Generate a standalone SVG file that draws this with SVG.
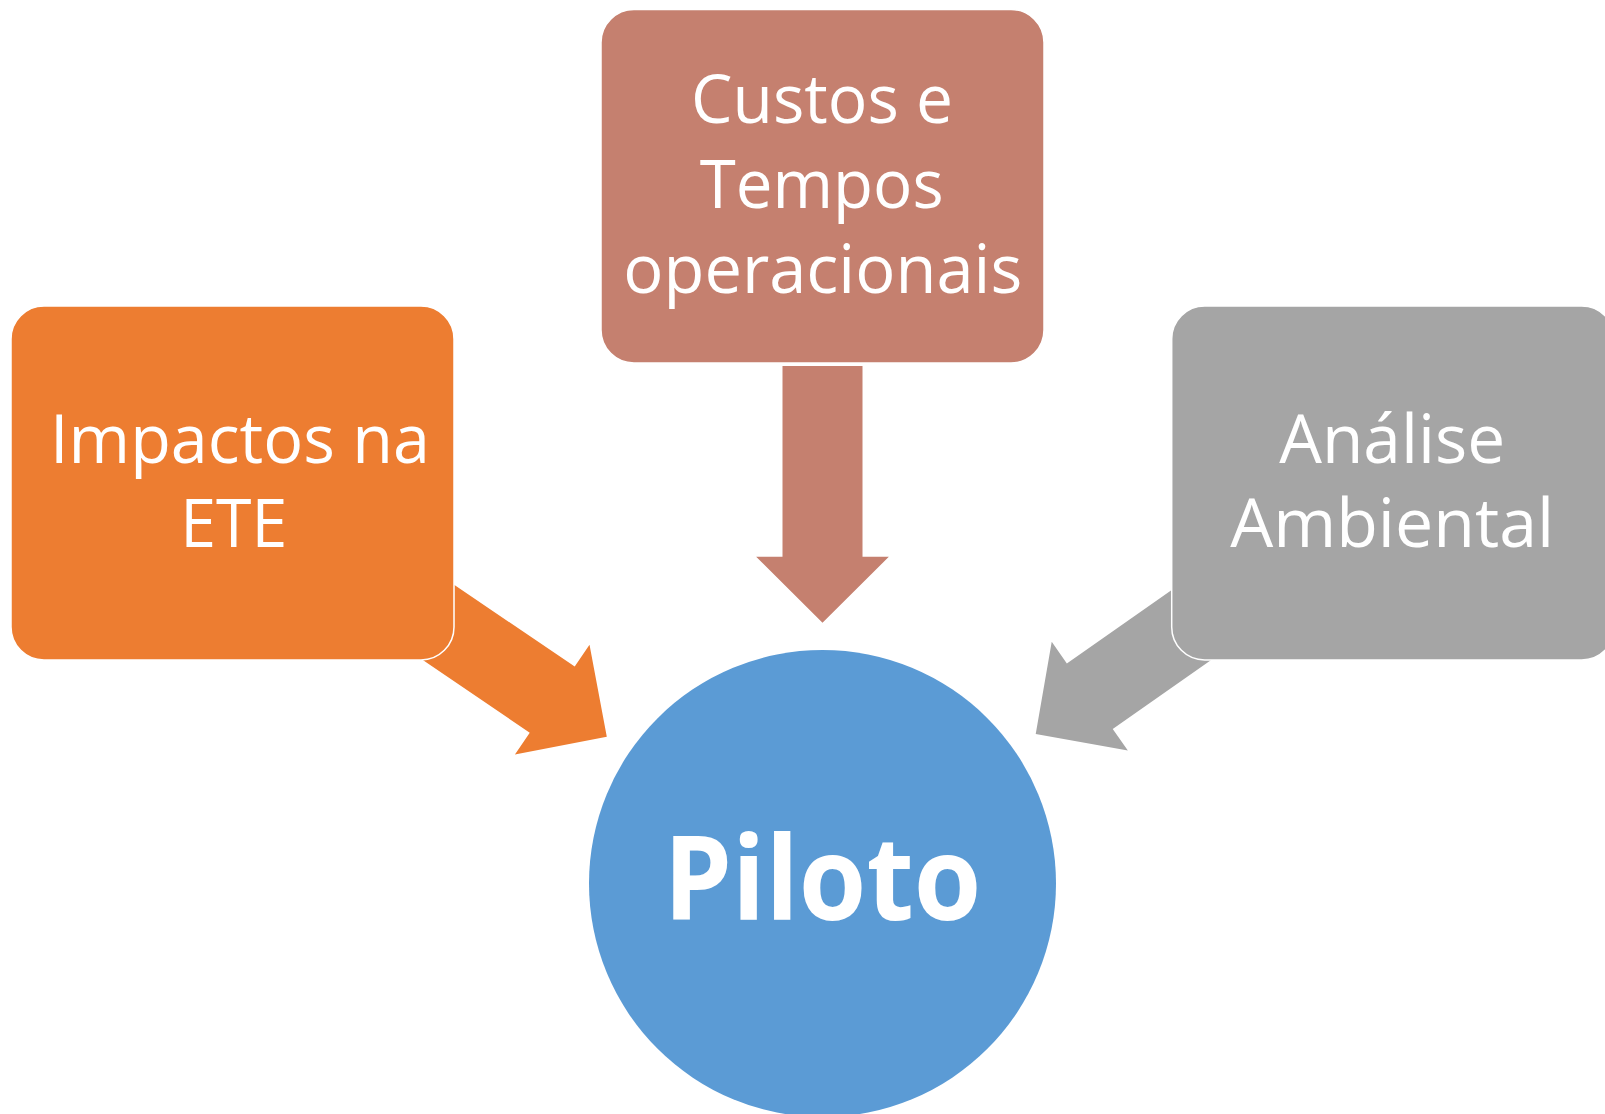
<svg xmlns="http://www.w3.org/2000/svg" width="1605" height="1114" viewBox="0 0 1605 1114">
  <style>
    .box { stroke: #ffffff; stroke-width: 1.5; }
    .lbl { font-family: "Open Sans", "Liberation Sans", sans-serif; font-size: 67px; fill: #ffffff; text-anchor: middle; }
    .big { font-family: "Open Sans", "Liberation Sans", sans-serif; font-size: 117px; font-weight: bold; fill: #ffffff; text-anchor: middle; }
  </style>
  <defs>
    <path id="arrow" d="M0,-40 L190.7,-40 L190.7,-66.35 L256.7,0 L190.7,66.35 L190.7,40 L0,40 Z"/>
  </defs>
  <rect width="1605" height="1114" fill="#ffffff"/>
  <g id="connectors">
    <use href="#arrow" fill="#ED7D31" transform="translate(394.5,592.5) rotate(34.2)"/>
    <use href="#arrow" fill="#C5806F" transform="translate(822.5,366) rotate(90)"/>
    <use href="#arrow" fill="#A5A5A5" transform="translate(1246,586.8) rotate(145)"/>
  </g>
  <g id="node-piloto">
    <circle cx="822.5" cy="883.5" r="233.5" fill="#5B9BD5"/>
    <text class="big" x="822.5" y="920" textLength="318" lengthAdjust="spacingAndGlyphs">Piloto</text>
  </g>
  <g id="node-impactos">
    <rect class="box" x="11" y="306" width="443" height="354" rx="33" fill="#ED7D31"/>
    <text class="lbl" x="240" y="462.7" textLength="380" lengthAdjust="spacingAndGlyphs">Impactos na</text>
    <text class="lbl" x="233.7" y="547.3" textLength="107" lengthAdjust="spacingAndGlyphs">ETE</text>
  </g>
  <g id="node-custos">
    <rect class="box" x="601" y="9.5" width="443" height="353.5" rx="33" fill="#C5806F"/>
    <text class="lbl" x="822" y="122.7" textLength="262" lengthAdjust="spacingAndGlyphs">Custos e</text>
    <text class="lbl" x="821.7" y="208.3" textLength="244" lengthAdjust="spacingAndGlyphs">Tempos</text>
    <text class="lbl" x="822.8" y="293.3" textLength="399" lengthAdjust="spacingAndGlyphs">operacionais</text>
  </g>
  <g id="node-analise">
    <rect class="box" x="1171.7" y="306" width="443" height="354" rx="33" fill="#A5A5A5"/>
    <text class="lbl" x="1392.2" y="462.7" textLength="226" lengthAdjust="spacingAndGlyphs">Análise</text>
    <text class="lbl" x="1392.2" y="547.3" textLength="324" lengthAdjust="spacingAndGlyphs">Ambiental</text>
  </g>
</svg>
